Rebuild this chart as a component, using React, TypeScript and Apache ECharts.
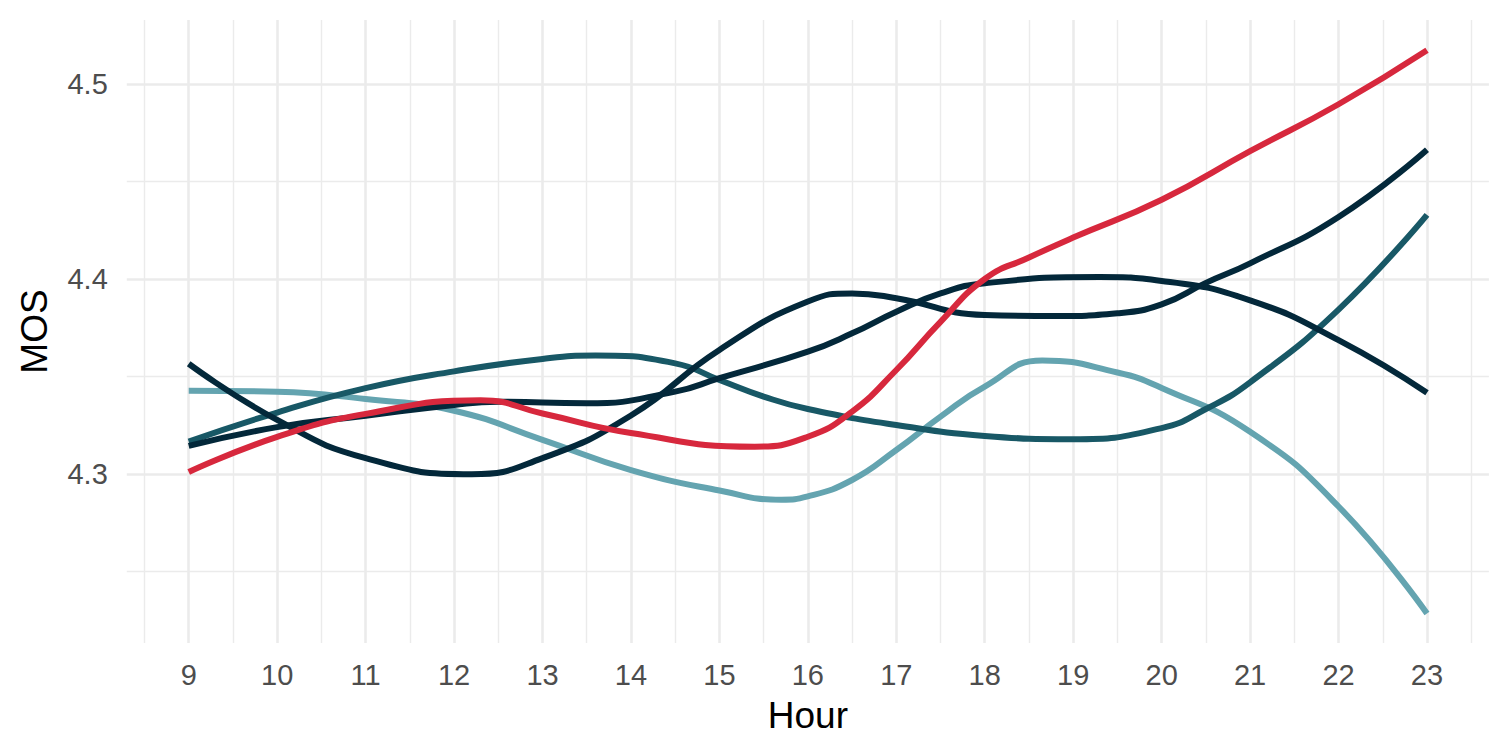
import React, { useEffect, useRef } from "react";
import * as echarts from "echarts";

const lightTealHours = [9, 10, 11, 12, 13, 14, 15, 15.7, 16, 16.5, 17, 17.5, 18, 18.65, 19.5, 20, 21, 22, 23];
const lightTealValues = [4.3427, 4.3421, 4.3384, 4.3324, 4.3175, 4.302, 4.2915, 4.2868, 4.2885, 4.2969, 4.3123, 4.3294, 4.3448, 4.3582, 4.352, 4.3441, 4.3216, 4.2833, 4.2284];

const midTealHours = [9, 10, 11, 12, 13, 13.6, 14.5, 15, 15.5, 16, 17, 18, 19, 20, 20.5, 21, 22, 23];
const midTealValues = [4.3166, 4.3315, 4.344, 4.3526, 4.359, 4.3607, 4.3567, 4.3482, 4.3397, 4.3333, 4.3251, 4.3195, 4.3178, 4.3235, 4.3333, 4.347, 4.3843, 4.4329];

const darkAHours = [9, 10, 11, 12.2, 13, 14, 15, 16, 16.5, 17, 18, 18.8, 19.5, 20, 20.5, 21, 22, 23];
const darkAValues = [4.3565, 4.3277, 4.3081, 4.2999, 4.3081, 4.33, 4.3636, 4.3884, 4.3926, 4.3901, 4.3815, 4.381, 4.3824, 4.387, 4.398, 4.408, 4.4318, 4.4663];

const darkBHours = [9, 10, 11, 12, 12.5, 13.5, 14.5, 15, 16, 16.5, 17, 17.5, 18, 19.3, 20, 21, 22, 23];
const darkBValues = [4.3144, 4.324, 4.3298, 4.3354, 4.337, 4.3362, 4.3422, 4.3491, 4.3627, 4.3721, 4.3832, 4.3926, 4.3978, 4.401, 4.399, 4.389, 4.3686, 4.3416];

const redHours = [9, 10, 11, 12.3, 13, 14, 15.4, 16, 16.5, 17, 17.5, 18, 18.5, 19, 20, 21, 22, 23];
const redValues = [4.301, 4.319, 4.3308, 4.3378, 4.331, 4.321, 4.314, 4.3191, 4.332, 4.3533, 4.378, 4.4, 4.411, 4.4212, 4.4406, 4.4655, 4.4896, 4.5173];

const seriesNames = ["A", "B", "C", "D", "E"];
const seriesColors = ["#64a4b0", "#185866", "#03283a", "#03283a", "#d7283d"];

const xMajorTicks = [9, 10, 11, 12, 13, 14, 15, 16, 17, 18, 19, 20, 21, 22, 23];
const xMinorTicks = [8.5, 9.5, 10.5, 11.5, 12.5, 13.5, 14.5, 15.5, 16.5, 17.5, 18.5, 19.5, 20.5, 21.5, 22.5, 23.5];
const yMajorTicks = [4.3, 4.4, 4.5];
const yMinorTicks = [4.25, 4.35, 4.45];
const xRange = [8.3, 23.7];
const yRange = [4.2133, 4.5328];

const FONT = "'Liberation Sans', Arial, Helvetica, sans-serif";
const GRID_COLOR = "#ebebeb";

export default function App() {
  const ref = useRef<HTMLDivElement>(null);

  useEffect(() => {
    if (!ref.current) return;
    const chart = echarts.init(ref.current, undefined, { renderer: "svg" });

    const allHours = [lightTealHours, midTealHours, darkAHours, darkBHours, redHours];
    const allValues = [lightTealValues, midTealValues, darkAValues, darkBValues, redValues];

    const major = { color: GRID_COLOR, width: 2.6, type: "solid" as const };
    const minor = { color: GRID_COLOR, width: 1.4, type: "solid" as const };

    const gridLines = [
      ...xMinorTicks.map((v) => ({ xAxis: v, lineStyle: minor })),
      ...xMajorTicks.map((v) => ({ xAxis: v, lineStyle: major })),
      ...yMinorTicks.map((v) => ({ yAxis: v, lineStyle: minor })),
      ...yMajorTicks.map((v) => ({ yAxis: v, lineStyle: major })),
    ];

    const lineSeries = allValues.map((vals, i) => ({
      type: "line" as const,
      name: seriesNames[i],
      data: allHours[i].map((h, j) => [h, vals[j]]),
      smooth: 0.5,
      showSymbol: false,
      symbol: "none",
      z: 3,
      lineStyle: { color: seriesColors[i], width: 6, cap: "butt" as const },
      itemStyle: { color: seriesColors[i] },
    }));

    chart.setOption({
      animation: false,
      backgroundColor: "#ffffff",
      grid: { left: 126.8, right: 19.1, top: 20, bottom: 111, containLabel: false },
      xAxis: {
        type: "value",
        min: xRange[0],
        max: xRange[1],
        name: "Hour",
        nameLocation: "middle",
        nameGap: 72,
        nameTextStyle: { fontFamily: FONT, fontSize: 37, color: "#000000", verticalAlign: "middle" },
        axisLine: { show: false },
        axisTick: { show: false },
        splitLine: { show: false },
        axisLabel: {
          customValues: xMajorTicks,
          fontFamily: FONT,
          fontSize: 29,
          color: "#4d4d4d",
          margin: 32,
          verticalAlign: "middle",
          formatter: (v: number) => String(v),
        },
      },
      yAxis: {
        type: "value",
        min: yRange[0],
        max: yRange[1],
        name: "MOS",
        nameLocation: "middle",
        nameGap: 92,
        nameRotate: 90,
        nameTextStyle: { fontFamily: FONT, fontSize: 37, color: "#000000", verticalAlign: "middle" },
        axisLine: { show: false },
        axisTick: { show: false },
        splitLine: { show: false },
        axisLabel: {
          customValues: yMajorTicks,
          fontFamily: FONT,
          fontSize: 29,
          color: "#4d4d4d",
          margin: 19,
          verticalAlign: "middle",
          formatter: (v: number) => v.toFixed(1),
        },
      },
      series: [
        {
          type: "line",
          name: "grid",
          data: [[xMajorTicks[0], yMajorTicks[0]]],
          showSymbol: false,
          symbol: "none",
          silent: true,
          z: 1,
          lineStyle: { opacity: 0 },
          markLine: {
            silent: true,
            z: 1,
            symbol: ["none", "none"],
            label: { show: false },
            emphasis: { disabled: true },
            data: gridLines,
          },
        },
        ...lineSeries,
      ],
    });

    return () => chart.dispose();
  }, []);

  return (
    <div
      ref={ref}
      style={{ position: "fixed", left: 0, top: 0, width: "1508px", height: "754px", background: "#ffffff" }}
    />
  );
}
